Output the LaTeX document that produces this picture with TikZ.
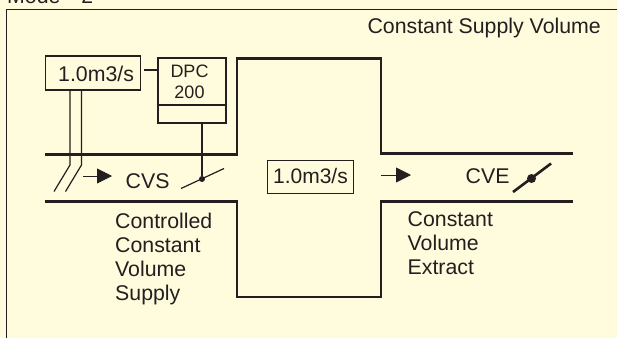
\documentclass[tikz,border=0pt]{standalone}
\usepackage{fontspec}
\setmainfont{Liberation Sans}
\usetikzlibrary{arrows.meta}
\definecolor{panel}{HTML}{FFFBDD}
\definecolor{ink}{HTML}{231F20}
\tikzset{x=1pt,y=-1pt,
 lbl/.style={inner sep=0pt,text=ink,font=\fontsize{21.3}{24}\selectfont,align=left},
 duct/.style={draw=ink,line width=2.5pt},
 thin line/.style={draw=ink,line width=1.2pt},
 box/.style={draw=ink,line width=1.8pt,fill=panel,inner sep=0pt},
 flow/.style={draw=ink,line width=0.8pt,-{Triangle[length=15pt,width=15pt]}},
 dot/.style={circle,fill=ink,inner sep=0pt,minimum size=6pt}}
\begin{document}
\begin{tikzpicture}
\useasboundingbox (0,0) rectangle (617,338);
\fill[panel] (0,0) rectangle (617,338);
\draw[ink,line width=1pt] (6.5,338) -- (6.5,9.5) -- (617,9.5);
\begin{scope}
\clip (0,0) rectangle (617,338);
\node[lbl,anchor=base west] (mode) at (7,3) {Mode\hspace{21pt}2};
\end{scope}
\node[lbl,anchor=base east] (title) at (601,33.5) {Constant Supply Volume};
\node[box,minimum width=95pt,minimum height=34pt] (flowbox) at (93,73) {};
\node[lbl,anchor=base west] (flowtext) at (58,81) {1.0m3/s};
\node[box,minimum width=68pt,minimum height=65pt,anchor=north west] (dpc) at (157,57) {};
\node[lbl,align=center,font=\fontsize{18}{21.5}\selectfont] (dpctext) at (189.5,82) {DPC\\200};
\coordinate (dpcl) at (157,105);
\coordinate (dpcr) at (225,105);
\draw[draw=ink,line width=1.6pt] (dpcl) -- (dpcr);
\draw[duct,line join=miter] (45,154.5) -- (237,154.5) -- (237,58.5) -- (381,58.5) -- (381,153.5) -- (573,153.5);
\draw[duct,line join=miter] (45,201.5) -- (237,201.5) -- (237,297) -- (381,297) -- (381,201.5) -- (573,201.5);
\coordinate (c1) at (70,90);
\coordinate (c2) at (81.5,90);
\draw[thin line] (c1) -- (70,165) -- (54,191.5);
\draw[thin line] (c2) -- (81.5,165) -- (65.5,191.5);
\coordinate (lk) at (144,70);
\draw[thin line] (lk) -- (dpc.west |- lk);
\node[dot] (damper) at (202,179) {};
\draw[thin line] (181,188.5) -- (224,168.5);
\draw[thin line] (dpc.south -| damper) -- (damper);
\node[dot,minimum size=9pt] (damper2) at (531.5,178.5) {};
\draw[draw=ink,line width=2.6pt] (513,192) -- (551,163.5);
\coordinate (a1) at (83,176);
\coordinate (a1e) at (112,176);
\draw[flow] (a1) -- (a1e);
\coordinate (a2) at (381,175);
\coordinate (a2e) at (411,175);
\draw[flow] (a2) -- (a2e);
\node[lbl,anchor=base west] (cvs) at (125.5,188) {CVS};
\node[lbl,anchor=base west] (cve) at (465.5,183) {CVE};
\node[draw=ink,line width=0.9pt,fill=panel,inner sep=0pt,minimum width=86pt,minimum height=33pt,anchor=north west,text=ink,font=\fontsize{21}{24}\selectfont] (mid) at (267,159.5) {1.0m3/s};
\node[lbl,anchor=north west] (left) at (115,212.5) {Controlled\\Constant\\Volume\\Supply};
\node[lbl,anchor=north west] (right) at (407.5,211) {Constant\\Volume\\Extract};
\end{tikzpicture}
\end{document}
